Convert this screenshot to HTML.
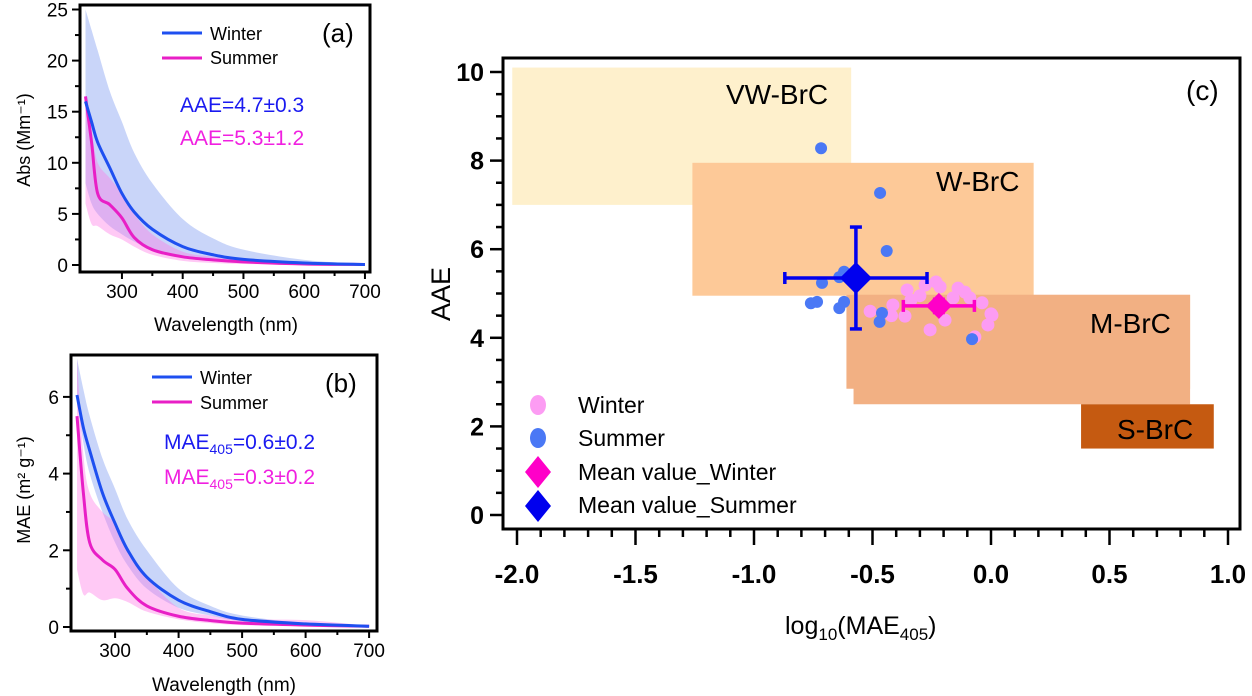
<!DOCTYPE html>
<html><head><meta charset="utf-8">
<style>
body{margin:0;background:#fff;width:1252px;height:696px;overflow:hidden;font-family:"Liberation Sans",sans-serif}
svg{display:block}
</style></head>
<body>
<svg id="fig" width="1252" height="696" viewBox="0 0 1252 696" xmlns="http://www.w3.org/2000/svg" font-family="Liberation Sans, sans-serif">
<g id="pa"></g>
<g id="pb"></g>
<g id="pc"></g>
</svg>
<script>
// ---- Panel (a) data: Abs vs wavelength ----
const absWl = [240,250,260,280,300,320,350,400,450,500,600,700];
const absWinter = [16,14,12,9.5,7,5.2,3.5,1.8,1.0,0.55,0.2,0.05];
const absWinterHi = [25,23,21,17,14,11,8,4.5,2.6,1.5,0.5,0.1];
const absWinterLo = [8,6,5,3.8,3,2.3,1.5,0.8,0.5,0.3,0.1,0];
const absSummer = [16.5,12,7,5.9,4.6,2.7,1.5,0.8,0.5,0.3,0.1,0.05];
const absSummerHi = [16,13,10,8.5,7,5,3,1.3,0.8,0.5,0.2,0.1];
const absSummerLo = [6,4,3.8,3,2.5,1.8,1,0.4,0.2,0.1,0.05,0];
const absTicksY = [0,5,10,15,20,25];
const wlTicks = [300,400,500,600,700];
// ---- Panel (b) data: MAE vs wavelength ----
const maeWl = [240,250,260,280,300,320,350,400,450,500,600,700];
const maeWinter = [6.05,5.2,4.6,3.5,2.7,2.0,1.3,0.7,0.4,0.2,0.08,0.02];
const maeWinterHi = [7,6.2,5.5,4.4,3.6,2.8,2.0,1.0,0.55,0.3,0.1,0.03];
const maeWinterLo = [6,4.8,4,3,2.2,1.6,1,0.5,0.3,0.15,0.05,0];
const maeSummer = [5.5,3.5,2.2,1.75,1.5,1.0,0.55,0.28,0.17,0.1,0.05,0.02];
const maeSummerHi = [7,4.5,3.5,3.0,2.7,2.0,1.3,0.5,0.3,0.2,0.18,0.03];
const maeSummerLo = [1.5,0.85,0.9,0.7,0.75,0.65,0.4,0.2,0.1,0.05,0.02,0];
const maeTicksY = [0,2,4,6];
// ---- Panel (c) data ----
const cTicksX = [-2.0,-1.5,-1.0,-0.5,0.0,0.5,1.0];
const cTicksY = [0,2,4,6,8,10];
const regionNames = ["VW-BrC","W-BrC","M-BrC","M-BrC-low","S-BrC"];
const regionX0 = [-2.02,-1.26,-0.61,-0.58,0.38];
const regionX1 = [-0.59,0.18,0.84,0.84,0.94];
const regionY0 = [7.0,4.95,2.85,2.5,1.5];
const regionY1 = [10.1,7.95,4.97,4.97,2.5];
const summerX = [-0.717,-0.468,-0.44,-0.713,-0.734,-0.64,-0.62,-0.46,-0.47,-0.08,-0.64,-0.62,-0.76];
const summerY = [8.28,7.27,5.96,5.24,4.81,4.67,4.81,4.56,4.36,3.97,5.37,5.49,4.78];
const winterX = [-0.354,-0.278,-0.232,-0.215,-0.139,-0.11,-0.089,-0.414,-0.338,-0.363,-0.194,-0.257,-0.068,0.004,-0.013,-0.038,-0.51,-0.42,-0.3,-0.16,0.0];
const winterY = [5.08,5.19,5.26,5.15,5.12,5.03,4.9,4.74,4.85,4.49,4.40,4.18,4.02,4.51,4.29,4.79,4.6,4.5,4.95,4.9,4.54];
const meanX = [-0.22,-0.57];
const meanY = [4.72,5.35];
const meanErrX = [0.15,0.3];
const meanErrY = [0.15,1.15];

const NS="http://www.w3.org/2000/svg";
function mk(parent,tag,attrs,text){const e=document.createElementNS(NS,tag);for(const k in attrs)e.setAttribute(k,attrs[k]);if(text!==undefined)e.textContent=text;parent.appendChild(e);return e;}
// smooth path through points (Catmull-Rom -> Bezier)
function smooth(pts,start){
  let d=(start?"M":"L")+pts[0][0]+","+pts[0][1];
  for(let i=0;i<pts.length-1;i++){
    const p0=pts[Math.max(i-1,0)],p1=pts[i],p2=pts[i+1],p3=pts[Math.min(i+2,pts.length-1)];
    const c1x=p1[0]+(p2[0]-p0[0])/6,c1y=p1[1]+(p2[1]-p0[1])/6;
    const c2x=p2[0]-(p3[0]-p1[0])/6,c2y=p2[1]-(p3[1]-p1[1])/6;
    d+=`C${c1x},${c1y} ${c2x},${c2y} ${p2[0]},${p2[1]}`;
  }
  return d;
}

function linePanel(g,o){
  const X=v=>o.x0+(v-o.xa)*o.xs, Y=v=>o.y0-v*o.ys;
  const band=(hi,lo,col,nm)=>{
    const up=o.wl.map((w,i)=>[X(w),Y(hi[i])]);
    const dn=o.wl.map((w,i)=>[X(w),Y(lo[i])]).reverse();
    const p=mk(g,"path",{d:smooth(up,true)+smooth(dn,false)+"Z",fill:col});
    
    };
  band(o.wH,o.wL,"rgba(120,150,240,0.4)","winter-band");
  band(o.sH,o.sL,"rgba(255,120,230,0.4)","summer-band");
  const ln=(v,col,nm)=>{const p=mk(g,"path",{d:smooth(o.wl.map((w,i)=>[X(w),Y(v[i])]),true),fill:"none",stroke:col,"stroke-width":3});
    
    };
  ln(o.s,"#e81fc6","summer-line");
  ln(o.w,"#1e4ff0","winter-line");
  const fr=mk(g,"rect",{x:o.fx,y:o.fy,width:o.fw,height:o.fh,fill:"none",stroke:"#000","stroke-width":3});
  
  
  o.yt.forEach(v=>{mk(g,"line",{x1:o.fx-8,x2:o.fx,y1:Y(v),y2:Y(v),stroke:"#000","stroke-width":2});
    const t=mk(g,"text",{x:o.fx-12,y:Y(v)+7,"text-anchor":"end","font-size":19},v);
    
    });
  o.ymt.forEach(v=>mk(g,"line",{x1:o.fx-5,x2:o.fx,y1:Y(v),y2:Y(v),stroke:"#000","stroke-width":2}));
  wlTicks.forEach(v=>{mk(g,"line",{x1:X(v),x2:X(v),y1:o.fy+o.fh,y2:o.fy+o.fh+7,stroke:"#000","stroke-width":2});
    const t=mk(g,"text",{x:X(v),y:o.fy+o.fh+26,"text-anchor":"middle","font-size":19},v);
    
    });
  [350,450,550,650].forEach(v=>mk(g,"line",{x1:X(v),x2:X(v),y1:o.fy+o.fh,y2:o.fy+o.fh+4,stroke:"#000","stroke-width":2}));
}

const pa=document.getElementById("pa");
linePanel(pa,{wl:absWl,w:absWinter,wH:absWinterHi,wL:absWinterLo,s:absSummer,sH:absSummerHi,sL:absSummerLo,
  x0:85.5,xa:240,xs:0.6075,y0:265,ys:10.22,fx:80,fy:5,fw:290,fh:267,yt:absTicksY,ymt:[2.5,7.5,12.5,17.5,22.5]});
const pb=document.getElementById("pb");
linePanel(pb,{wl:maeWl,w:maeWinter,wH:maeWinterHi,wL:maeWinterLo,s:maeSummer,sH:maeSummerHi,sL:maeSummerLo,
  x0:77,xa:240,xs:0.635,y0:627,ys:38.35,fx:71,fy:355,fw:306,fh:276,yt:maeTicksY,ymt:[1,3,5]});
</script>
<script>
(function(){
const pa=document.getElementById("pa"),pb=document.getElementById("pb");
function T(g,nm,a,txt){const t=mk(g,"text",a,txt);return t;}
function L(g,nm,a){const l=mk(g,"line",a);}
L(pa,"legend-winter-line",{x1:162,x2:202,y1:33,y2:33,stroke:"#1e4ff0","stroke-width":3});
T(pa,"legend-winter-label",{x:210,y:40,"font-size":18},"Winter");
L(pa,"legend-summer-line",{x1:162,x2:202,y1:58,y2:58,stroke:"#e81fc6","stroke-width":3});
T(pa,"legend-summer-label",{x:210,y:64,"font-size":18},"Summer");
T(pa,"panel-label-a",{x:322,y:42,"font-size":26},"(a)");
T(pa,"aae-winter-annotation",{x:180,y:112,"font-size":21,fill:"#1a1af0"},"AAE=4.7±0.3");
T(pa,"aae-summer-annotation",{x:180,y:145,"font-size":21,fill:"#f020e0"},"AAE=5.3±1.2");
T(pa,"y-axis-title",{transform:"translate(30,140) rotate(-90)","text-anchor":"middle","font-size":18},"Abs (Mm⁻¹)");
T(pa,"x-axis-title",{x:226,y:331,"text-anchor":"middle","font-size":19},"Wavelength (nm)");
L(pb,"legend-winter-line",{x1:152,x2:192,y1:377,y2:377,stroke:"#1e4ff0","stroke-width":3});
T(pb,"legend-winter-label",{x:200,y:384,"font-size":18},"Winter");
L(pb,"legend-summer-line",{x1:152,x2:192,y1:402,y2:402,stroke:"#e81fc6","stroke-width":3});
T(pb,"legend-summer-label",{x:200,y:409,"font-size":18},"Summer");
T(pb,"panel-label-b",{x:325,y:392,"font-size":26},"(b)");
const t1=T(pb,"mae-winter-annotation",{x:164,y:449,"font-size":21,fill:"#1a1af0"},"MAE");
mk(t1,"tspan",{"font-size":14,dy:5},"405");mk(t1,"tspan",{dy:-5},"=0.6±0.2");
const t2=T(pb,"mae-summer-annotation",{x:164,y:484,"font-size":21,fill:"#f020e0"},"MAE");
mk(t2,"tspan",{"font-size":14,dy:5},"405");mk(t2,"tspan",{dy:-5},"=0.3±0.2");
T(pb,"y-axis-title",{transform:"translate(30,490) rotate(-90)","text-anchor":"middle","font-size":18},"MAE (m² g⁻¹)");
T(pb,"x-axis-title",{x:224,y:691,"text-anchor":"middle","font-size":19},"Wavelength (nm)");
})();
</script>
<script>
(function(){
const g=document.getElementById("pc");
const X=v=>517+(v+2)*237, Y=v=>515-v*44.3;
const cols=["#fef0cc","#fdc998","#f2b083","#f2b083","#c55a11"];
regionNames.forEach((n,i)=>{
  const r=mk(g,"rect",{x:X(regionX0[i]),y:Y(regionY1[i]),width:X(regionX1[i])-X(regionX0[i]),height:Y(regionY0[i])-Y(regionY1[i]),fill:cols[i]});
  
  
});
function T(nm,a,txt){const t=mk(g,"text",a,txt);return t;}
T("label-vw-brc",{x:726,y:104,"font-size":28},"VW-BrC");
T("label-w-brc",{x:936,y:191,"font-size":28},"W-BrC");
T("label-m-brc",{x:1090,y:333,"font-size":28},"M-BrC");
T("label-s-brc",{x:1117,y:439,"font-size":28},"S-BrC");
winterX.forEach((x,i)=>{const c=mk(g,"circle",{cx:X(x),cy:Y(winterY[i]),r:6.5,fill:"#fc9cf3"});
  
  });
summerX.forEach((x,i)=>{const c=mk(g,"circle",{cx:X(x),cy:Y(summerY[i]),r:6,fill:"#4a78f5"});
  
  });
const mcol=["#ff00c8","#0000ee"],mn=["mean-winter","mean-summer"];
meanX.forEach((x,i)=>{
  const gg=mk(g,"g",{stroke:mcol[i],"stroke-width":3.5,fill:mcol[i]});
  
  
  const cx=X(x),cy=Y(meanY[i]),x0=X(x-meanErrX[i]),x1=X(x+meanErrX[i]),y0=Y(meanY[i]-meanErrY[i]),y1=Y(meanY[i]+meanErrY[i]);
  mk(gg,"line",{x1:x0,x2:x1,y1:cy,y2:cy});mk(gg,"line",{x1:cx,x2:cx,y1:y0,y2:y1});
  mk(gg,"line",{x1:x0,x2:x0,y1:cy-6,y2:cy+6});mk(gg,"line",{x1:x1,x2:x1,y1:cy-6,y2:cy+6});
  mk(gg,"line",{x1:cx-6,x2:cx+6,y1:y0,y2:y0});mk(gg,"line",{x1:cx-6,x2:cx+6,y1:y1,y2:y1});
  const s=i?16:13;
  mk(gg,"path",{d:`M${cx},${cy-s}L${cx+s},${cy}L${cx},${cy+s}L${cx-s},${cy}Z`,stroke:"none"});
});
const fr=mk(g,"rect",{x:503,y:58,width:737,height:471,fill:"none",stroke:"#000","stroke-width":3});


cTicksY.forEach(v=>{mk(g,"line",{x1:490,x2:503,y1:Y(v),y2:Y(v),stroke:"#000","stroke-width":2.5});
  T("y-tick-label",{x:484,y:Y(v)+9,"text-anchor":"end","font-size":25,"font-weight":"bold"},v);});
[1,3,5,7,9,0.5,1.5,2.5,3.5,4.5,5.5,6.5,7.5,8.5,9.5].forEach(v=>mk(g,"line",{x1:496,x2:503,y1:Y(v),y2:Y(v),stroke:"#000","stroke-width":2.5}));
cTicksX.forEach(v=>{mk(g,"line",{x1:X(v),x2:X(v),y1:529,y2:545,stroke:"#000","stroke-width":2.5});
  T("x-tick-label",{x:X(v),y:583,"text-anchor":"middle","font-size":26,"font-weight":"bold"},v.toFixed(1));});
for(let v=-1.9;v<1.0;v+=0.1){if(Math.abs(v*2-Math.round(v*2))<1e-6)continue;
  mk(g,"line",{x1:X(v),x2:X(v),y1:529,y2:537,stroke:"#000","stroke-width":2.5});}
T("panel-label-c",{x:1186,y:100,"font-size":28},"(c)");
T("y-axis-title",{transform:"translate(450,294) rotate(-90)","text-anchor":"middle","font-size":27},"AAE");
const xt=T("x-axis-title",{x:785,y:634,"font-size":25},"log");
mk(xt,"tspan",{"font-size":17,dy:6},"10");mk(xt,"tspan",{dy:-6},"(MAE");mk(xt,"tspan",{"font-size":17,dy:6},"405");mk(xt,"tspan",{dy:-6},")");
const lg=mk(g,"g",{});


mk(lg,"ellipse",{cx:538,cy:405,rx:8,ry:10,fill:"#fc9cf3"});
mk(lg,"ellipse",{cx:538,cy:438,rx:8,ry:10,fill:"#4a78f5"});
mk(lg,"path",{d:"M538,456L551,472L538,488L525,472Z",fill:"#ff00c8"});
mk(lg,"path",{d:"M538,490L551,506L538,522L525,506Z",fill:"#0000ee"});
[["Winter",413],["Summer",446],["Mean value_Winter",480],["Mean value_Summer",513]].forEach(([s,y])=>{
  const t=mk(lg,"text",{x:578,y:y,"font-size":23},s);
  
  });
})();
</script>
</body></html>
